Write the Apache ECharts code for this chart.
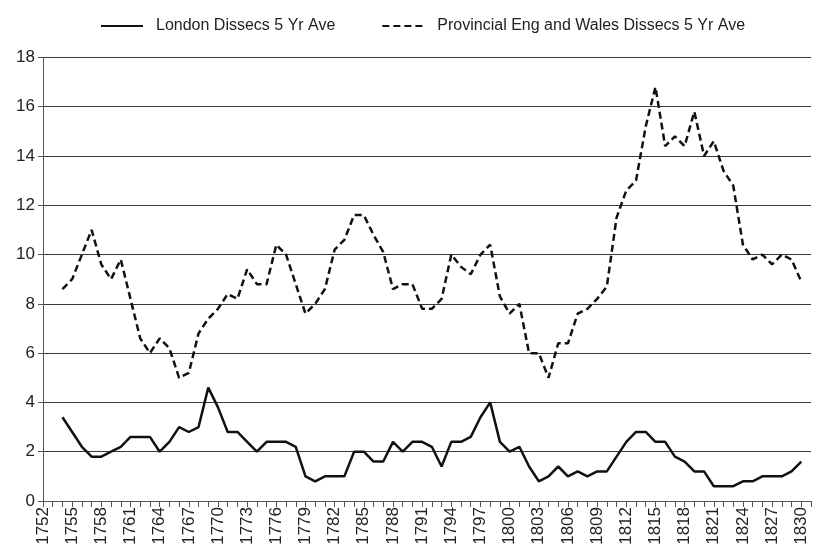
<!DOCTYPE html>
<html>
<head>
<meta charset="utf-8">
<script src="https://cdn.jsdelivr.net/npm/echarts@6/dist/echarts.min.js"></script>
<style>html,body{margin:0;padding:0;background:#fff}#c{width:819px;height:558px}</style>
</head>
<body>
<div id="c"></div>
<script>
const years = [];
for (let y = 1752; y <= 1831; y++) years.push(String(y));

// 5-year averages, first value is 1754
const london = [
  3.4,2.8,2.2,1.8,1.8,2.0,2.2,2.6,2.6,2.6,
  2.0,2.4,3.0,2.8,3.0,4.6,3.8,2.8,2.8,2.4,
  2.0,2.4,2.4,2.4,2.2,1.0,0.8,1.0,1.0,1.0,
  2.0,2.0,1.6,1.6,2.4,2.0,2.4,2.4,2.2,1.4,
  2.4,2.4,2.6,3.4,4.0,2.4,2.0,2.2,1.4,0.8,
  1.0,1.4,1.0,1.2,1.0,1.2,1.2,1.8,2.4,2.8,
  2.8,2.4,2.4,1.8,1.6,1.2,1.2,0.6,0.6,0.6,
  0.8,0.8,1.0,1.0,1.0,1.2,1.6
];
const provincial = [
  8.6,9.0,10.0,11.0,9.6,9.0,9.8,8.2,6.6,6.0,
  6.6,6.2,5.0,5.2,6.8,7.4,7.8,8.4,8.2,9.4,
  8.8,8.8,10.4,10.0,8.8,7.6,8.0,8.6,10.2,10.6,
  11.6,11.6,10.8,10.1,8.6,8.8,8.8,7.8,7.8,8.2,
  10.0,9.5,9.2,10.0,10.4,8.3,7.6,8.0,6.0,6.0,
  5.0,6.4,6.4,7.6,7.8,8.2,8.7,11.5,12.6,13.0,
  15.2,16.8,14.4,14.8,14.4,15.8,14.0,14.6,13.4,12.8,
  10.4,9.8,10.0,9.6,10.0,9.8,8.9
];
const firstYear = 1754;
function pad(arr){
  const out = [];
  for (const y of years) {
    const i = +y - firstYear;
    out.push(i >= 0 && i < arr.length ? arr[i] : '-');
  }
  return out;
}
const seriesNames = ['London Dissecs 5 Yr Ave', 'Provincial Eng and Wales Dissecs 5 Yr Ave'];

const chart = echarts.init(document.getElementById('c'), null, {renderer:'canvas'});
const font = 'Liberation Sans, Arial, sans-serif';
chart.setOption({
  animation: false,
  backgroundColor: '#fff',
  legend: {
    top: 13, left: 95, itemGap: 46, itemWidth: 42, itemHeight: 12,
    itemStyle: {opacity: 0},
    textStyle: {fontFamily: font, fontSize: 16, color: '#222', padding: [0, 0, 0, 8]},
    data: seriesNames
  },
  grid: {left: 43, right: 8, top: 57.4, bottom: 57, containLabel: false},
  xAxis: {
    type: 'category', data: years, boundaryGap: false,
    axisLine: {lineStyle: {color: '#555', width: 1}},
    axisTick: {interval: 0, length: 6, lineStyle: {color: '#555'}},
    axisLabel: {interval: 2, rotate: 90, fontSize: 17, fontFamily: font, color: '#222', margin: 6}
  },
  yAxis: {
    type: 'value', min: 0, max: 18, interval: 2,
    axisLine: {show: true, lineStyle: {color: '#555', width: 1}},
    axisTick: {show: true, length: 5, lineStyle: {color: '#555'}},
    axisLabel: {fontSize: 17, fontFamily: font, color: '#222', margin: 8},
    splitLine: {lineStyle: {color: '#3a3a3a', width: 1}}
  },
  series: [
    {name: seriesNames[0], type: 'line', data: pad(london), symbol: 'none',
     lineStyle: {color: '#111', width: 2.5, type: 'solid'}, itemStyle: {color: '#111'}},
    {name: seriesNames[1], type: 'line', data: pad(provincial), symbol: 'none',
     lineStyle: {color: '#111', width: 2.5, type: [7, 4]}, itemStyle: {color: '#111'}}
  ]
});
</script>
</body>
</html>
